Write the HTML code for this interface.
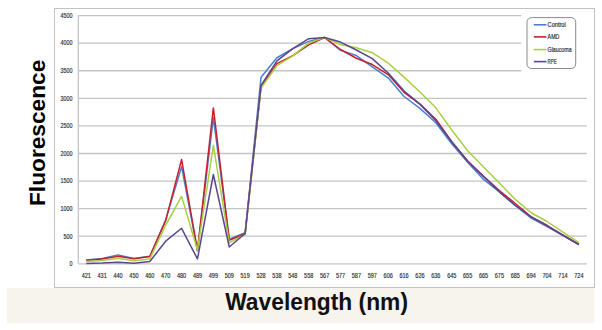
<!DOCTYPE html>
<html><head><meta charset="utf-8"><style>
html,body{margin:0;padding:0;background:#fff;width:602px;height:330px;overflow:hidden;}
body{position:relative;font-family:"Liberation Sans",sans-serif;}
.beige{position:absolute;left:6.8px;top:288px;width:587px;height:34.6px;background:#f7f4ee;}
.frame{position:absolute;left:54px;top:7.7px;width:540.6px;height:280px;border:1px solid #c2c2c2;box-sizing:border-box;background:#fff;}
svg{position:absolute;left:0;top:0;}
.t{font-family:"Liberation Sans",sans-serif;font-size:6.4px;fill:#2a2a2a;stroke:#2a2a2a;stroke-width:0.15px;}
.l{font-family:"Liberation Sans",sans-serif;font-size:6.6px;fill:#333;stroke:#333;stroke-width:0.2px;}
.yt{position:absolute;font-weight:bold;font-size:22.7px;color:#000;white-space:nowrap;}
.xt{position:absolute;font-weight:bold;font-size:22.8px;color:#111;white-space:nowrap;}
</style></head><body>
<div class="beige"></div>
<div class="frame"></div>
<svg width="602" height="330" viewBox="0 0 602 330">
<line x1="78.3" y1="263.80" x2="586.8" y2="263.80" stroke="#c4c4c4" stroke-width="1.3"/>
<line x1="78.3" y1="236.22" x2="586.8" y2="236.22" stroke="#c4c4c4" stroke-width="1.3"/>
<line x1="78.3" y1="208.64" x2="586.8" y2="208.64" stroke="#c4c4c4" stroke-width="1.3"/>
<line x1="78.3" y1="181.07" x2="586.8" y2="181.07" stroke="#c4c4c4" stroke-width="1.3"/>
<line x1="78.3" y1="153.49" x2="586.8" y2="153.49" stroke="#c4c4c4" stroke-width="1.3"/>
<line x1="78.3" y1="125.91" x2="586.8" y2="125.91" stroke="#c4c4c4" stroke-width="1.3"/>
<line x1="78.3" y1="98.33" x2="586.8" y2="98.33" stroke="#c4c4c4" stroke-width="1.3"/>
<line x1="78.3" y1="70.76" x2="586.8" y2="70.76" stroke="#c4c4c4" stroke-width="1.3"/>
<line x1="78.3" y1="43.18" x2="586.8" y2="43.18" stroke="#c4c4c4" stroke-width="1.3"/>
<line x1="78.3" y1="15.60" x2="586.8" y2="15.60" stroke="#c4c4c4" stroke-width="1.3"/>
<line x1="78.3" y1="15.60" x2="78.3" y2="263.80" stroke="#c4c4c4" stroke-width="1.3"/>
<text x="72.6" y="266.10" text-anchor="end" class="t" textLength="3.0" lengthAdjust="spacingAndGlyphs">0</text>
<text x="72.6" y="238.52" text-anchor="end" class="t" textLength="9.0" lengthAdjust="spacingAndGlyphs">500</text>
<text x="72.6" y="210.94" text-anchor="end" class="t" textLength="12.0" lengthAdjust="spacingAndGlyphs">1000</text>
<text x="72.6" y="183.37" text-anchor="end" class="t" textLength="12.0" lengthAdjust="spacingAndGlyphs">1500</text>
<text x="72.6" y="155.79" text-anchor="end" class="t" textLength="12.0" lengthAdjust="spacingAndGlyphs">2000</text>
<text x="72.6" y="128.21" text-anchor="end" class="t" textLength="12.0" lengthAdjust="spacingAndGlyphs">2500</text>
<text x="72.6" y="100.63" text-anchor="end" class="t" textLength="12.0" lengthAdjust="spacingAndGlyphs">3000</text>
<text x="72.6" y="73.06" text-anchor="end" class="t" textLength="12.0" lengthAdjust="spacingAndGlyphs">3500</text>
<text x="72.6" y="45.48" text-anchor="end" class="t" textLength="12.0" lengthAdjust="spacingAndGlyphs">4000</text>
<text x="72.6" y="17.90" text-anchor="end" class="t" textLength="12.0" lengthAdjust="spacingAndGlyphs">4500</text>
<text x="86.25" y="277.5" text-anchor="middle" class="t" textLength="9.2" lengthAdjust="spacingAndGlyphs">421</text>
<text x="102.14" y="277.5" text-anchor="middle" class="t" textLength="9.2" lengthAdjust="spacingAndGlyphs">431</text>
<text x="118.03" y="277.5" text-anchor="middle" class="t" textLength="9.2" lengthAdjust="spacingAndGlyphs">440</text>
<text x="133.92" y="277.5" text-anchor="middle" class="t" textLength="9.2" lengthAdjust="spacingAndGlyphs">450</text>
<text x="149.81" y="277.5" text-anchor="middle" class="t" textLength="9.2" lengthAdjust="spacingAndGlyphs">460</text>
<text x="165.70" y="277.5" text-anchor="middle" class="t" textLength="9.2" lengthAdjust="spacingAndGlyphs">470</text>
<text x="181.59" y="277.5" text-anchor="middle" class="t" textLength="9.2" lengthAdjust="spacingAndGlyphs">480</text>
<text x="197.48" y="277.5" text-anchor="middle" class="t" textLength="9.2" lengthAdjust="spacingAndGlyphs">489</text>
<text x="213.37" y="277.5" text-anchor="middle" class="t" textLength="9.2" lengthAdjust="spacingAndGlyphs">499</text>
<text x="229.26" y="277.5" text-anchor="middle" class="t" textLength="9.2" lengthAdjust="spacingAndGlyphs">509</text>
<text x="245.15" y="277.5" text-anchor="middle" class="t" textLength="9.2" lengthAdjust="spacingAndGlyphs">519</text>
<text x="261.04" y="277.5" text-anchor="middle" class="t" textLength="9.2" lengthAdjust="spacingAndGlyphs">528</text>
<text x="276.93" y="277.5" text-anchor="middle" class="t" textLength="9.2" lengthAdjust="spacingAndGlyphs">538</text>
<text x="292.82" y="277.5" text-anchor="middle" class="t" textLength="9.2" lengthAdjust="spacingAndGlyphs">548</text>
<text x="308.71" y="277.5" text-anchor="middle" class="t" textLength="9.2" lengthAdjust="spacingAndGlyphs">558</text>
<text x="324.60" y="277.5" text-anchor="middle" class="t" textLength="9.2" lengthAdjust="spacingAndGlyphs">567</text>
<text x="340.50" y="277.5" text-anchor="middle" class="t" textLength="9.2" lengthAdjust="spacingAndGlyphs">577</text>
<text x="356.39" y="277.5" text-anchor="middle" class="t" textLength="9.2" lengthAdjust="spacingAndGlyphs">587</text>
<text x="372.28" y="277.5" text-anchor="middle" class="t" textLength="9.2" lengthAdjust="spacingAndGlyphs">597</text>
<text x="388.17" y="277.5" text-anchor="middle" class="t" textLength="9.2" lengthAdjust="spacingAndGlyphs">606</text>
<text x="404.06" y="277.5" text-anchor="middle" class="t" textLength="9.2" lengthAdjust="spacingAndGlyphs">616</text>
<text x="419.95" y="277.5" text-anchor="middle" class="t" textLength="9.2" lengthAdjust="spacingAndGlyphs">626</text>
<text x="435.84" y="277.5" text-anchor="middle" class="t" textLength="9.2" lengthAdjust="spacingAndGlyphs">636</text>
<text x="451.73" y="277.5" text-anchor="middle" class="t" textLength="9.2" lengthAdjust="spacingAndGlyphs">645</text>
<text x="467.62" y="277.5" text-anchor="middle" class="t" textLength="9.2" lengthAdjust="spacingAndGlyphs">655</text>
<text x="483.51" y="277.5" text-anchor="middle" class="t" textLength="9.2" lengthAdjust="spacingAndGlyphs">665</text>
<text x="499.40" y="277.5" text-anchor="middle" class="t" textLength="9.2" lengthAdjust="spacingAndGlyphs">675</text>
<text x="515.29" y="277.5" text-anchor="middle" class="t" textLength="9.2" lengthAdjust="spacingAndGlyphs">685</text>
<text x="531.18" y="277.5" text-anchor="middle" class="t" textLength="9.2" lengthAdjust="spacingAndGlyphs">694</text>
<text x="547.07" y="277.5" text-anchor="middle" class="t" textLength="9.2" lengthAdjust="spacingAndGlyphs">704</text>
<text x="562.96" y="277.5" text-anchor="middle" class="t" textLength="9.2" lengthAdjust="spacingAndGlyphs">714</text>
<text x="578.85" y="277.5" text-anchor="middle" class="t" textLength="9.2" lengthAdjust="spacingAndGlyphs">724</text>
<polyline points="86.25,260.10 102.14,258.39 118.03,254.86 133.92,258.56 149.81,256.35 165.70,219.68 181.59,166.73 197.48,250.84 213.37,117.64 229.26,239.20 245.15,232.64 261.04,77.21 276.93,57.74 292.82,48.64 308.71,41.41 324.60,37.50 340.50,50.35 356.39,55.53 372.28,66.84 388.17,77.82 404.06,96.51 419.95,108.32 435.84,122.71 451.73,143.73 467.62,162.31 483.51,179.41 499.40,191.82 515.29,205.50 531.18,218.19 547.07,226.63 562.96,235.67 578.85,244.50" fill="none" stroke="#4a80cc" stroke-width="1.5" stroke-linejoin="round"/>
<polyline points="86.25,260.33 102.14,259.11 118.03,256.30 133.92,258.73 149.81,256.57 165.70,220.61 181.59,159.56 197.48,250.29 213.37,107.93 229.26,240.19 245.15,233.74 261.04,86.31 276.93,63.64 292.82,55.59 308.71,44.83 324.60,37.50 340.50,49.52 356.39,58.24 372.28,64.52 388.17,74.62 404.06,92.32 419.95,104.12 435.84,119.29 451.73,141.69 467.62,160.93 483.51,176.38 499.40,190.50 515.29,203.46 531.18,216.81 547.07,225.52 562.96,235.12 578.85,244.50" fill="none" stroke="#c8202e" stroke-width="1.5" stroke-linejoin="round"/>
<polyline points="86.25,261.59 102.14,260.60 118.03,258.23 133.92,260.82 149.81,258.89 165.70,225.03 181.59,196.40 197.48,250.01 213.37,145.27 229.26,242.90 245.15,234.29 261.04,88.13 276.93,65.52 292.82,55.86 308.71,42.90 324.60,37.50 340.50,44.56 356.39,47.76 372.28,52.72 388.17,63.03 404.06,77.10 419.95,91.99 435.84,107.82 451.73,129.99 467.62,150.73 483.51,167.06 499.40,183.00 515.29,199.43 531.18,212.73 547.07,221.50 562.96,232.20 578.85,242.62" fill="none" stroke="#a6d042" stroke-width="1.5" stroke-linejoin="round"/>
<polyline points="86.25,263.41 102.14,263.08 118.03,262.37 133.92,263.30 149.81,261.43 165.70,241.19 181.59,228.28 197.48,258.95 213.37,174.50 229.26,246.98 245.15,233.46 261.04,85.43 276.93,60.94 292.82,48.64 308.71,38.71 324.60,37.50 340.50,42.07 356.39,50.02 372.28,58.62 388.17,73.02 404.06,91.11 419.95,104.12 435.84,120.73 451.73,141.69 467.62,160.93 483.51,176.38 499.40,191.82 515.29,205.50 531.18,216.81 547.07,225.52 562.96,235.12 578.85,244.50" fill="none" stroke="#5a468e" stroke-width="1.5" stroke-linejoin="round"/>
<rect x="521.3" y="9" width="70" height="72" fill="#fff"/>
<rect x="527.0" y="17.6" width="48.7" height="50.9" rx="4.5" ry="4.5" fill="#fff" stroke="#8a8a8a" stroke-width="1"/>
<line x1="533.8" y1="24.8" x2="546.5" y2="24.8" stroke="#4a80cc" stroke-width="1.6"/>
<text x="547.6" y="26.90" class="l" textLength="18.1" lengthAdjust="spacingAndGlyphs">Control</text>
<line x1="533.8" y1="36.9" x2="546.5" y2="36.9" stroke="#c8202e" stroke-width="1.6"/>
<text x="547.6" y="39.00" class="l" textLength="11.8" lengthAdjust="spacingAndGlyphs">AMD</text>
<line x1="533.8" y1="49.6" x2="546.5" y2="49.6" stroke="#a6d042" stroke-width="1.6"/>
<text x="547.6" y="51.70" class="l" textLength="24.0" lengthAdjust="spacingAndGlyphs">Glaucoma</text>
<line x1="533.8" y1="61.6" x2="546.5" y2="61.6" stroke="#5a468e" stroke-width="1.6"/>
<text x="547.6" y="63.70" class="l" textLength="9.0" lengthAdjust="spacingAndGlyphs">RPE</text>
</svg>
<div class="yt" id="yt" style="left:26.3px;top:205.5px;transform-origin:0 0;transform:rotate(-90deg);line-height:1;">Fluorescence</div>
<div class="xt" id="xt" style="left:225.2px;top:291.2px;transform-origin:0 19.3px;transform:scaleY(1.07);line-height:1;">Wavelength (nm)</div>
</body></html>
